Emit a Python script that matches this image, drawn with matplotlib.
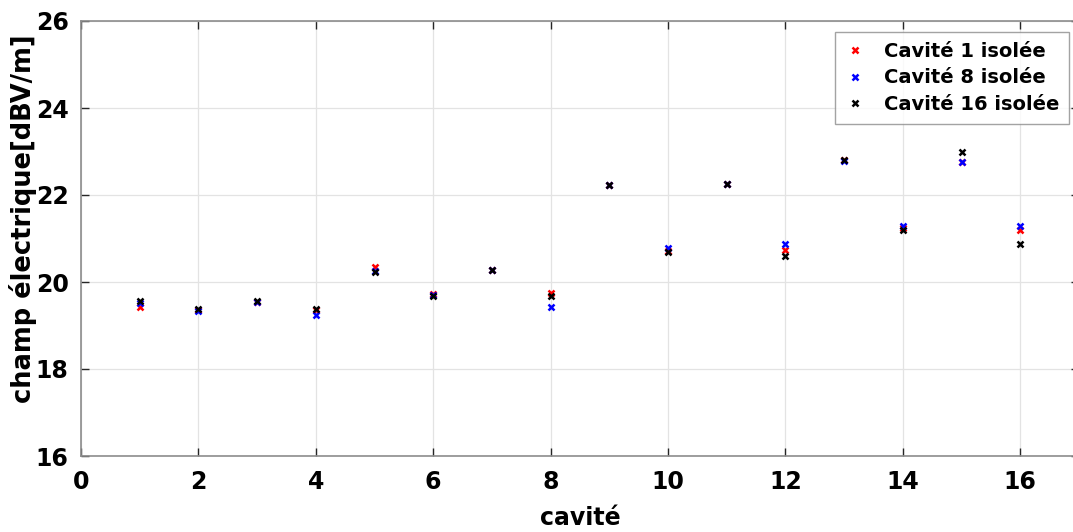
import numpy as np
import matplotlib.pyplot as plt

plt.rcParams['font.family'] = ['DejaVu Sans']
plt.rcParams['font.weight'] = 'bold'

cavites = np.arange(1, 17)
cav1_isolee = [19.42, 19.36, 19.55, 19.35, 20.34, 19.73, 20.27, 19.75,
               22.24, 20.72, 22.25, 20.74, 22.80, 21.23, 22.77, 21.20]
cav8_isolee = [19.52, 19.33, 19.53, 19.24, 20.26, 19.70, 20.27, 19.43,
               22.24, 20.78, 22.25, 20.87, 22.79, 21.28, 22.77, 21.28]
cav16_isolee = [19.57, 19.39, 19.57, 19.39, 20.24, 19.68, 20.27, 19.68,
                22.24, 20.69, 22.25, 20.60, 22.81, 21.19, 22.99, 20.88]

W, H = 1073, 532
fig = plt.figure(figsize=(W / 100, H / 100), dpi=100)
# axes box: x 0..17 from px 81 to ~1079, y 16..26 from px 456 to 21
ax = fig.add_axes([81 / W, 1 - 456 / H, (1079 - 81) / W, (456 - 21) / H])

ms, mw = 5, 1.8
ax.plot(cavites, cav1_isolee, 'x', color='red', ms=ms, mew=mw, label='Cavité 1 isolée')
ax.plot(cavites, cav8_isolee, 'x', color='blue', ms=ms, mew=mw, label='Cavité 8 isolée')
ax.plot(cavites, cav16_isolee, 'x', color='black', ms=ms, mew=mw, label='Cavité 16 isolée')

ax.set_xlim(0, 17)
ax.set_ylim(16, 26)
ax.set_xticks(np.arange(0, 17, 2))
ax.set_yticks(np.arange(16, 27, 2))
ax.grid(True, color='#e3e3e3', linewidth=0.9)
ax.set_axisbelow(True)
for s in ax.spines.values():
    s.set_color('#8c8c8c')
    s.set_linewidth(1.2)
ax.tick_params(direction='in', length=6, width=1, color='#262626',
               labelsize=17, top=True, right=True)
ax.tick_params(axis='x', pad=10)
ax.tick_params(axis='y', pad=9)
ax.set_xlabel('cavité', fontsize=17, fontweight='bold', labelpad=9)
ax.set_ylabel('champ électrique[dBV/m]', fontsize=18.5, fontweight='bold')
# label sits a bit above the axes centre in the original
ax.yaxis.set_label_coords((37 - 81) / 998, (456 - 218.5) / 435)

leg = ax.legend(loc='upper right', bbox_to_anchor=(1069 / W, 1 - 32 / H),
                bbox_transform=fig.transFigure, fontsize=14, frameon=True,
                fancybox=False, edgecolor='#8c8c8c', handlelength=1.0,
                handletextpad=1.0, borderpad=0.5, labelspacing=0.4,
                borderaxespad=0, markerscale=0.9)
leg.get_frame().set_linewidth(1.0)
for t in leg.get_texts():
    t.set_fontweight('bold')

fig.savefig('out.png', dpi=100)
